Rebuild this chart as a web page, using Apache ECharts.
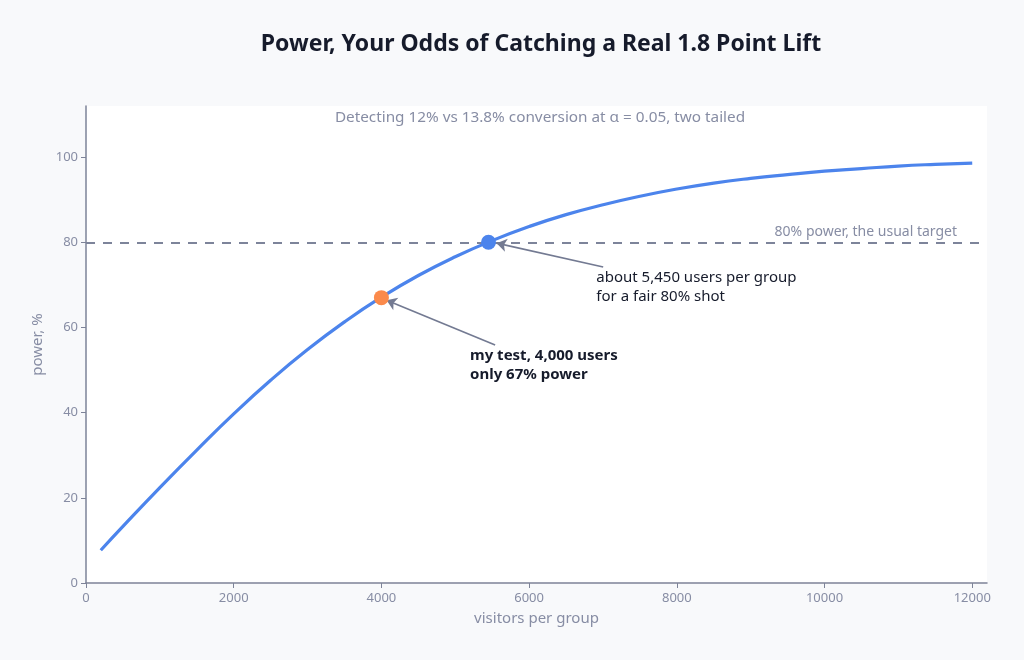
<!DOCTYPE html>
<html><head><meta charset="utf-8">
<script src="https://cdn.jsdelivr.net/npm/echarts@6/dist/echarts.min.js"></script>
<style>html,body{margin:0;padding:0;background:#f8f9fb}#c{width:1024px;height:660px}</style>
</head><body><div id="c"></div>
<script>
const visitors = [200, 500, 1000, 1500, 2000, 2500, 3000, 3500, 4000, 4500, 5000, 5500, 6000, 6500, 7000, 7500, 8000, 8500, 9000, 9500, 10000, 10500, 11000, 11500, 12000];
const power = [7.7, 13.3, 22.4, 31.2, 39.7, 47.6, 54.8, 61.3, 67.1, 72.2, 76.6, 80.4, 83.7, 86.5, 88.8, 90.8, 92.5, 93.9, 95.0, 95.9, 96.7, 97.3, 97.9, 98.3, 98.6];
const myTest = [4000, 67];
const target = [5450, 80];
const targetPower = 80;
const xTicks = [0, 2000, 4000, 6000, 8000, 10000, 12000];
const yTicks = [0, 20, 40, 60, 80, 100];

const FONT = '"Noto Sans", "Open Sans", sans-serif';
const GRAY = '#878da4';
const AXIS = '#7d8398';
const chart = echarts.init(document.getElementById('c'), null, {renderer: 'canvas'});
chart.setOption({
  backgroundColor: '#f8f9fb',
  animation: false,
  textStyle: {fontFamily: FONT},
  title: [
    {text: 'Power, Your Odds of Catching a Real 1.8 Point Lift', left: 536, top: 28, textAlign: 'center',
     textStyle: {fontFamily: FONT, fontSize: 23, fontWeight: 'bold', color: '#161b2b'}},
    {text: 'Detecting 12% vs 13.8% conversion at α = 0.05, two tailed', left: 535, top: 105, textAlign: 'center',
     textStyle: {fontFamily: FONT, fontSize: 15.3, fontWeight: 'normal', color: GRAY}}
  ],
  grid: {left: 86, right: 37, top: 106, bottom: 77, show: true, backgroundColor: '#ffffff', borderWidth: 0},
  xAxis: {
    type: 'value', min: 0, max: 12200, interval: 2000,
    name: 'visitors per group', nameLocation: 'middle', nameGap: 28,
    nameTextStyle: {color: GRAY, fontSize: 15, fontFamily: FONT},
    axisLine: {show: true, lineStyle: {color: AXIS, width: 1.5}},
    axisTick: {show: true, customValues: xTicks, length: 5, lineStyle: {color: AXIS}},
    axisLabel: {customValues: xTicks, color: GRAY, fontSize: 13, fontFamily: FONT, margin: 9,
                formatter: v => String(v)},
    splitLine: {show: false}
  },
  yAxis: {
    type: 'value', min: 0, max: 112, interval: 20,
    name: 'power, %', nameLocation: 'middle', nameGap: 38,
    nameTextStyle: {color: GRAY, fontSize: 15, fontFamily: FONT},
    axisLine: {show: true, lineStyle: {color: AXIS, width: 1.5}},
    axisTick: {show: true, customValues: yTicks, length: 5, lineStyle: {color: AXIS}},
    axisLabel: {customValues: yTicks, color: GRAY, fontSize: 13, fontFamily: FONT, margin: 8,
                formatter: v => String(v)},
    splitLine: {show: false}
  },
  series: [
    {
      type: 'line', data: visitors.map((v, i) => [v, power[i]]), smooth: true, showSymbol: false,
      lineStyle: {color: '#4c84ec', width: 3.2}, z: 3,
      markLine: {
        silent: true, symbol: 'none',
        lineStyle: {color: '#7d849a', type: [9, 8], width: 2, opacity: 1},
        label: {show: true, position: 'insideEndTop', formatter: '80% power, the usual target',
                color: GRAY, fontSize: 14, fontFamily: FONT, distance: [30, 3]},
        emphasis: {disabled: true},
        data: [{yAxis: targetPower}]
      }
    },
    {
      type: 'line', data: [], z: 4,
      markLine: {
        silent: true, animation: false,
        symbol: ['none', 'arrow'], symbolSize: 10,
        lineStyle: {color: '#737a92', width: 1.6, type: 'solid', opacity: 1},
        itemStyle: {color: '#737a92'},
        label: {show: false},
        emphasis: {disabled: true},
        data: [
          [{coord: [5540, 55.9]}, {coord: [4070, 66.4]}],
          [{coord: [7003, 74.2]}, {coord: [5560, 79.8]}]
        ]
      }
    },
    {
      type: 'scatter', data: [myTest], symbolSize: 15, z: 5,
      itemStyle: {color: '#fb8a4b', opacity: 1}
    },
    {
      type: 'scatter', data: [target], symbolSize: 15, z: 5,
      itemStyle: {color: '#4c84ec', opacity: 1}
    },
    {
      type: 'scatter', symbolSize: 0, silent: true, z: 6,
      itemStyle: {opacity: 1},
      data: [
        {value: [5200, 51.2], label: {show: true, position: 'right', distance: 0, align: 'left',
          formatter: 'my test, 4,000 users\nonly 67% power', color: '#161b2b', fontWeight: 'bold',
          fontSize: 15, lineHeight: 19, fontFamily: FONT}},
        {value: [6910, 69.4], label: {show: true, position: 'right', distance: 0, align: 'left',
          formatter: 'about 5,450 users per group\nfor a fair 80% shot', color: '#161b2b', fontWeight: 'normal',
          fontSize: 15, lineHeight: 19, fontFamily: FONT}}
      ]
    }
  ]
});
</script></body></html>
